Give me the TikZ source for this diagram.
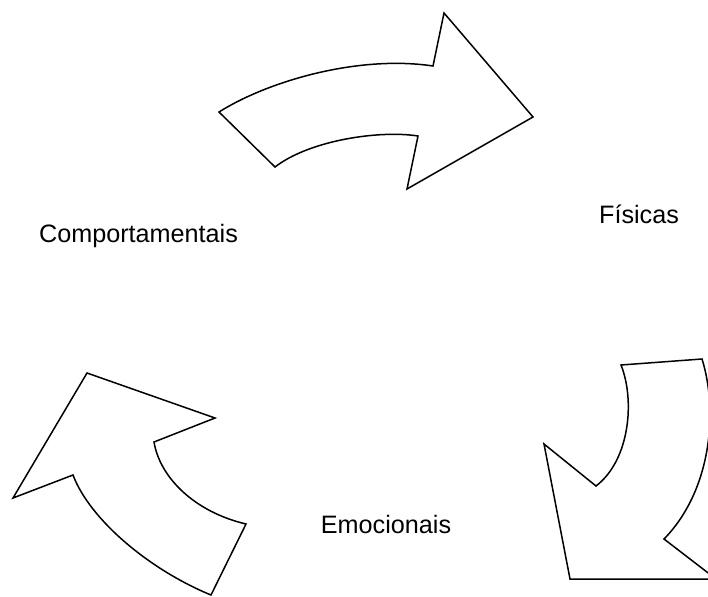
\documentclass[tikz,border=0pt]{standalone}
\usepackage{fontspec}
\setmainfont{Liberation Sans}
\begin{document}
\begin{tikzpicture}[x=1pt,y=-1pt,
  bentarrow/.style={draw=black,fill=white,line width=1.5pt,line join=miter},
  label/.style={anchor=base,inner sep=0pt,font=\fontsize{25.2}{30}\selectfont}]
\useasboundingbox (0,0) rectangle (708,596);
\clip (0,0) rectangle (708,596);

% upper curved arrow pointing right
\draw[bentarrow] (219,112) .. controls (270,80) and (360,55) .. (433,66)
  -- (444,13) -- (533,117) -- (407,189) -- (418,136)
  .. controls (380,130) and (310,140) .. (275,167) -- cycle;

% right curved arrow pointing down-right
\draw[bentarrow] (621,365) -- (702,359)
  .. controls (718,410) and (712,490) .. (664,539)
  -- (716,579) -- (570,579) -- (544,444) -- (596,486)
  .. controls (630,460) and (635,400) .. (621,365) -- cycle;

% left curved arrow pointing up-left
\draw[bentarrow] (87,373) -- (215,418) -- (154,442)
  .. controls (160,478) and (195,512) .. (246,524)
  -- (211,595)
  .. controls (150,570) and (90,520) .. (73,475)
  -- (13,498) -- cycle;

\node[label] (comp) at (138.5,242) {Comportamentais};
\node[label] (fis) at (639,223) {Físicas};
\node[label] (emo) at (386,533) {Emocionais};
\end{tikzpicture}
\end{document}
